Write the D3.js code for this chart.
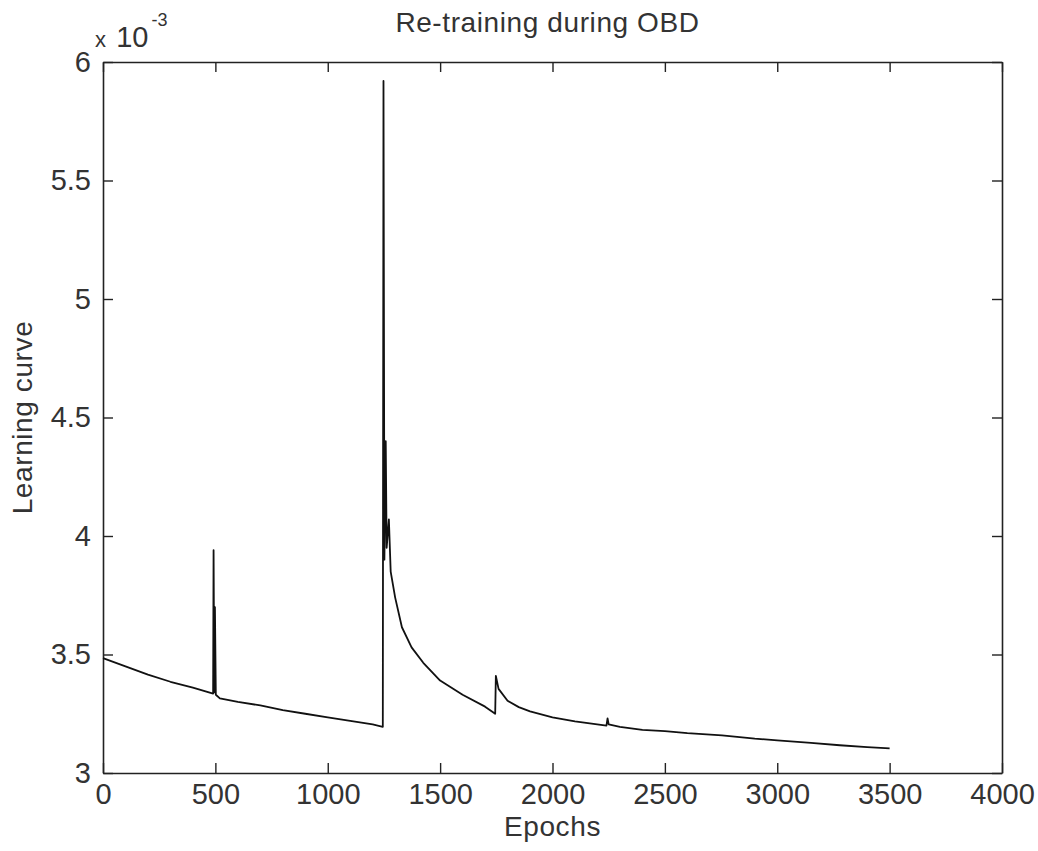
<!DOCTYPE html>
<html>
<head>
<meta charset="utf-8">
<script src="https://cdn.jsdelivr.net/npm/d3@7"></script>
<style>
  body { margin: 0; background: #fff; }
  text { font-family: "Liberation Sans", Arial, sans-serif; fill: #333; }
</style>
</head>
<body>
<div id="chart"></div>
<script>
// learning curve, values in units of 1e-3
var epochs = [0, 100, 200, 300, 400, 490, 492, 495, 498, 502, 520, 600, 700, 800, 900, 1000, 1100, 1200, 1245,
  1248, 1252, 1258, 1262, 1272, 1280, 1300, 1330, 1373, 1425, 1500, 1600, 1700, 1745,
  1748, 1760, 1800, 1850, 1900, 2000, 2100, 2240, 2245, 2250, 2300, 2400, 2500, 2600, 2754,
  2900, 3000, 3150, 3278, 3400, 3500];
var errors = [3.485, 3.45, 3.415, 3.385, 3.36, 3.335, 3.94, 3.34, 3.70, 3.33, 3.315, 3.30, 3.285, 3.265, 3.25, 3.235, 3.22, 3.205, 3.195,
  5.92, 3.90, 4.40, 3.95, 4.07, 3.85, 3.74, 3.615, 3.53, 3.465, 3.39, 3.33, 3.28, 3.25,
  3.41, 3.355, 3.305, 3.278, 3.26, 3.235, 3.218, 3.20, 3.23, 3.205, 3.195, 3.182, 3.177, 3.168, 3.159,
  3.145, 3.138, 3.127, 3.117, 3.109, 3.104];
var xTicks = [0, 500, 1000, 1500, 2000, 2500, 3000, 3500, 4000];
var yTicks = [3, 3.5, 4, 4.5, 5, 5.5, 6];

var width = 1038, height = 851;
var margin = {top: 62, right: 36, bottom: 78, left: 103};
var w = width - margin.left - margin.right,
    h = height - margin.top - margin.bottom;

var svg = d3.select("#chart").append("svg")
    .attr("width", width)
    .attr("height", height);

var g = svg.append("g")
    .attr("transform", "translate(" + margin.left + "," + margin.top + ")");

var x = d3.scaleLinear().domain([0, 4000]).range([0, w]);
var y = d3.scaleLinear().domain([3, 6]).range([h, 0]);

var fmt = d3.format("~g");

function styleAxis(sel) {
    sel.selectAll(".domain").attr("stroke", "#222").attr("stroke-width", 1.6);
    sel.selectAll(".tick line").attr("stroke", "#222").attr("stroke-width", 1.4);
    sel.selectAll(".tick text").attr("fill", "#333").style("font-size", "29px");
}

g.append("g")
    .attr("transform", "translate(0," + h + ")")
    .call(d3.axisBottom(x).tickValues(xTicks).tickSize(-10).tickSizeOuter(0).tickPadding(10).tickFormat(fmt))
    .call(styleAxis);

g.append("g")
    .call(d3.axisTop(x).tickValues(xTicks).tickSize(-10).tickSizeOuter(0).tickFormat(""))
    .call(styleAxis);

g.append("g")
    .call(d3.axisLeft(y).tickValues(yTicks).tickSize(-10).tickSizeOuter(0).tickPadding(12).tickFormat(fmt))
    .call(styleAxis);

g.append("g")
    .attr("transform", "translate(" + w + ",0)")
    .call(d3.axisRight(y).tickValues(yTicks).tickSize(-10).tickSizeOuter(0).tickFormat(""))
    .call(styleAxis);

var line = d3.line()
    .x(function(d, i) { return x(epochs[i]); })
    .y(function(d) { return y(d); });

g.append("path")
    .datum(errors)
    .attr("fill", "none")
    .attr("stroke", "#111")
    .attr("stroke-width", 1.8)
    .attr("stroke-linejoin", "round")
    .attr("d", line);

// exponent label
var ex = svg.append("text")
    .attr("x", 95)
    .attr("y", 47)
    .style("font-size", "29px");
ex.append("tspan").style("font-size", "22px").text("x ");
ex.append("tspan").attr("dx", 4).text("10");
ex.append("tspan").attr("dx", 3).attr("dy", -21).style("font-size", "18px").text("-3");

svg.append("text")
    .attr("x", margin.left + w / 2 - 5)
    .attr("y", 32)
    .attr("text-anchor", "middle")
    .style("font-size", "28px")
    .style("letter-spacing", "0.6px")
    .text("Re-training during OBD");

svg.append("text")
    .attr("x", margin.left + w / 2)
    .attr("y", 836)
    .attr("text-anchor", "middle")
    .style("font-size", "28px")
    .style("letter-spacing", "0.6px")
    .text("Epochs");

svg.append("text")
    .attr("transform", "translate(32," + (margin.top + h / 2) + ") rotate(-90)")
    .attr("text-anchor", "middle")
    .style("font-size", "28px")
    .style("letter-spacing", "0.6px")
    .text("Learning curve");
</script>
</body>
</html>
